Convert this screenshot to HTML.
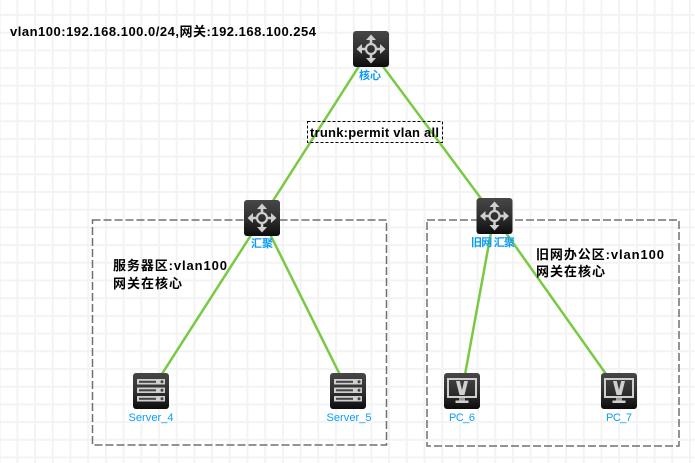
<!DOCTYPE html>
<html><head><meta charset="utf-8"><style>
html,body{margin:0;padding:0;background:#fff}
svg{display:block}
text{font-family:"Liberation Sans","Noto Sans CJK SC",sans-serif}
.b{font-size:13px;font-weight:bold;fill:#000}
.l{font-size:11px;fill:#0a9cf5;text-anchor:middle}
</style></head><body>
<svg width="695" height="463" viewBox="0 0 695 463" xmlns="http://www.w3.org/2000/svg">
<defs>
<pattern id="g" x="16.4" y="14" width="17.7" height="17.7" patternUnits="userSpaceOnUse">
<rect x="0" y="0" width="2" height="17.7" fill="#f3f3f3"/>
<rect x="0" y="0" width="17.7" height="2" fill="#f3f3f3"/>
</pattern>
<linearGradient id="d" x1="0" y1="0" x2="0" y2="1">
<stop offset="0" stop-color="#474747"/><stop offset=".55" stop-color="#2e2e2e"/><stop offset="1" stop-color="#0c0c0c"/>
</linearGradient>
<g id="sw">
<rect width="36" height="36" rx="3" fill="url(#d)"/>
<g fill="#cfcfcf" stroke="#cfcfcf">
<circle cx="18" cy="18" r="5" fill="none" stroke-width="2.200"/>
<path d="M18 12V7M18 24V29M12 18H7M24 18H29" stroke-width="2.600" fill="none"/>
<path d="M18 3.500l5 5.500h-10zM18 32.500l5-5.500h-10zM3.500 18l5.500-5v10zM32.500 18l-5.500-5v10z" stroke="none"/>
</g>
</g>
<g id="sv">
<rect width="36" height="36" rx="3" fill="url(#d)"/>
<g fill="#cfcfcf">
<rect x="4" y="6" width="28" height="5.500"/><rect x="4" y="14.500" width="28" height="5.500"/><rect x="4" y="23" width="28" height="5.500"/>
</g>
<g fill="#444">
<rect x="6" y="7.800" width="17" height="2"/><rect x="6" y="16.300" width="17" height="2"/><rect x="6" y="24.800" width="17" height="2"/>
<circle cx="29" cy="8.700" r="1.500"/><circle cx="29" cy="17.200" r="1.500"/><circle cx="29" cy="25.700" r="1.500"/>
</g>
</g>
<g id="pc">
<rect width="36" height="36" rx="3" fill="url(#d)"/>
<path d="M3 5H33V25H3ZM5 7V23H31V7Z" fill="#cfcfcf" fill-rule="evenodd"/>
<path d="M12 8h3.800L18 17l2.200-9H24L20.500 22h-5z" fill="#cfcfcf"/>
<rect x="15" y="25" width="6" height="2.500" fill="#999"/>
<rect x="11.500" y="27.500" width="13" height="2.500" fill="#cfcfcf"/>
</g>
</defs>
<rect width="695" height="463" fill="#fff"/>
<rect width="695" height="463" fill="url(#g)"/>

<g fill="none" stroke="#707070" stroke-width="1.500" stroke-dasharray="8 3">
<rect x="92.500" y="220" width="294" height="225"/>
<rect x="427" y="220" width="252" height="226"/>
</g>

<g stroke="#7ac943" stroke-width="2.500" fill="none">
<line x1="370" y1="49" x2="262" y2="218"/>
<line x1="370" y1="49" x2="494" y2="216"/>
<line x1="262" y1="218" x2="151" y2="391"/>
<line x1="262" y1="218" x2="348" y2="391"/>
<line x1="494" y1="216" x2="462" y2="391"/>
<line x1="494" y1="216" x2="618" y2="391"/>
</g>

<rect x="307.500" y="121.500" width="135" height="21" fill="none" stroke="#000" stroke-width="1" stroke-dasharray="3 2"/>
<text class="b" x="310" y="137" textLength="129" lengthAdjust="spacing">trunk:permit vlan all</text>

<use href="#sw" x="353" y="31"/>
<use href="#sw" x="244" y="200"/>
<use href="#sw" x="476.500" y="198"/>
<use href="#sv" x="133" y="373"/>
<use href="#sv" x="330" y="373"/>
<use href="#pc" x="444" y="373"/>
<use href="#pc" x="601" y="373"/>

<text class="b" x="10" y="36" textLength="306" lengthAdjust="spacing">vlan100:192.168.100.0/24,网关:192.168.100.254</text>
<text class="b" x="113" y="270" textLength="114" lengthAdjust="spacing">服务器区:vlan100</text>
<text class="b" x="113" y="288" textLength="69" lengthAdjust="spacing">网关在核心</text>
<text class="b" x="536" y="259" textLength="128" lengthAdjust="spacing">旧网办公区:vlan100</text>
<text class="b" x="536" y="276" textLength="69" lengthAdjust="spacing">网关在核心</text>

<text class="l" x="370" y="79" style="font-weight:bold">核心</text>
<text class="l" x="262" y="247" style="font-weight:bold">汇聚</text>
<text class="l" x="493" y="246" style="font-weight:bold" textLength="44" lengthAdjust="spacing">旧网 汇聚</text>
<text class="l" x="151" y="421" textLength="45" lengthAdjust="spacing">Server_4</text>
<text class="l" x="349" y="421" textLength="45" lengthAdjust="spacing">Server_5</text>
<text class="l" x="462" y="421" textLength="26" lengthAdjust="spacing">PC_6</text>
<text class="l" x="619" y="421" textLength="26" lengthAdjust="spacing">PC_7</text>
</svg>
</body></html>
